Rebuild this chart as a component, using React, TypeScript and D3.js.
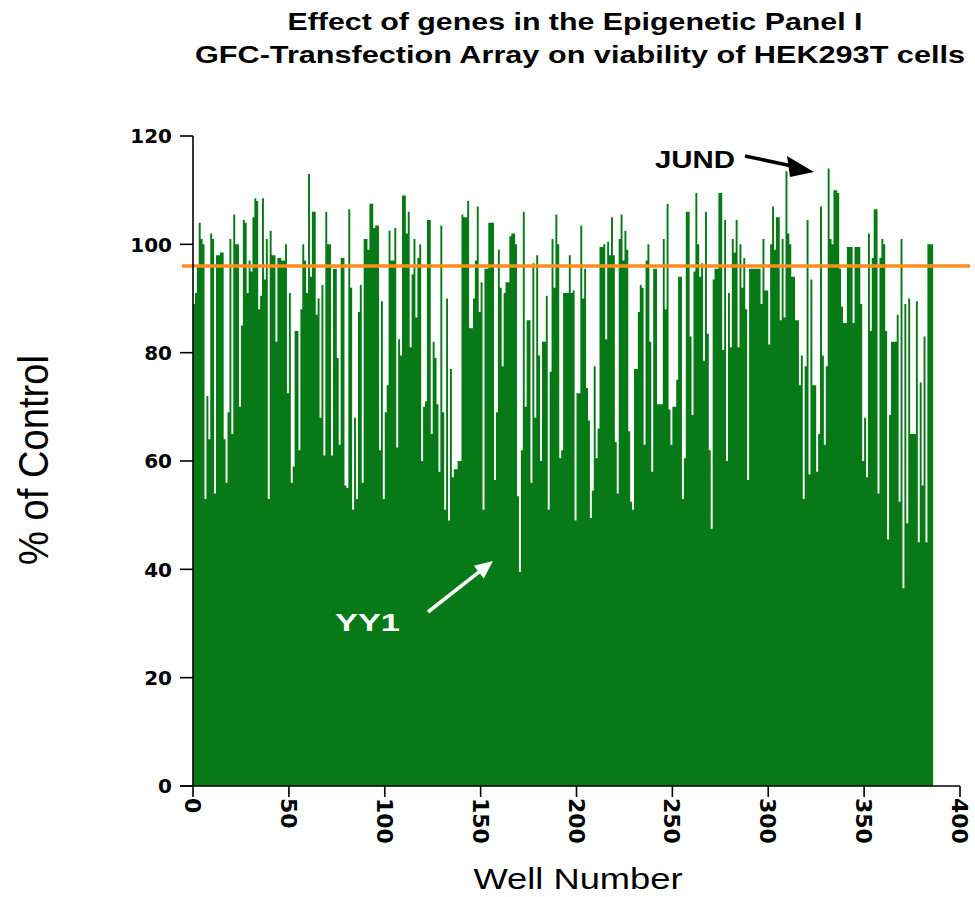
import React from "react"
import * as d3 from "d3"

// % of control, read well by well off the picture (wells 1..386)
const wells001to047 = [89, 91, 96, 104, 101, 100, 53, 72, 64, 102, 101, 54, 98, 98, 98.5, 98.5, 64, 56, 69, 101, 65, 105.5, 100, 100, 70, 85, 104.5, 104, 91, 97, 95, 105, 108.5, 108, 88, 90.5, 108.5, 93.5, 101, 53, 102.5, 98, 98, 82, 97.5, 97.5, 97]
const wells048to097 = [97, 100, 72.5, 91, 56, 59, 84, 84, 62, 88, 100, 97, 91, 113, 94, 106, 106, 87, 90, 68, 92.5, 61, 106, 100, 100, 61, 95.5, 95.5, 79, 63, 97.5, 97.5, 55.5, 55, 106.5, 92, 51, 68, 53, 87.5, 92.5, 56, 101, 101, 99, 107.5, 107.5, 103, 103.5, 103.5]
const wells098to147 = [62, 89.5, 53, 69, 74, 102.5, 97, 97, 103, 62.5, 82.5, 79.5, 109, 109, 102, 106, 81, 94.5, 101, 86.5, 97.5, 100, 60, 70, 71, 104.5, 104.5, 65, 82, 79, 70.5, 58, 103.5, 69, 51, 90, 49, 77, 57, 58.5, 58.5, 60, 60, 105.5, 105, 105, 108, 84.5, 84.5, 90]
const wells148to196 = [97, 107, 87.5, 93, 51, 95.5, 95.5, 104, 104, 104, 56.5, 69, 99, 92, 77.5, 91, 93, 93, 101.5, 102, 102, 100, 53.5, 39.5, 62, 106, 70, 86, 86, 56, 96.5, 68, 98, 79.5, 60, 82, 82, 90.5, 51, 76.5, 101, 92, 105.5, 100, 60.5, 62, 91, 91, 91]
const wells197to246 = [98, 91, 91.5, 49, 72.5, 72.5, 103.5, 90, 95.5, 73.5, 67.5, 49.5, 54.5, 77.5, 60.5, 66, 99.5, 99.5, 100, 82.5, 100.5, 98, 105, 98, 63.5, 54, 101, 105.5, 97, 102.5, 99, 65.5, 52.5, 51, 77, 77, 87.5, 92.5, 92, 63, 97, 100, 82, 58, 95.5, 95.5, 70.5, 70.5, 70.5, 101]
const wells247to294 = [88, 107.5, 69.5, 63, 70, 70, 75, 94, 94, 53, 60.5, 106, 106, 83, 68.5, 95, 109.5, 100, 94, 96.5, 78.5, 106, 83.5, 62, 47.5, 93.5, 95.5, 95.5, 109.5, 109.5, 80.5, 104.5, 60, 91, 81, 101, 98.5, 104.5, 81, 100, 92, 97.5, 88, 56.5, 95.5, 95.5, 95.5, 95.5]
const wells295to344 = [95.5, 95.5, 89, 101, 91.5, 91.5, 81.5, 100, 107, 99, 105, 105, 86, 101, 86.5, 113.5, 102, 100, 94, 94, 86, 86, 74, 79.5, 53, 77.5, 104.5, 57.5, 93.5, 74, 74, 58, 65, 107, 79.5, 63, 77.5, 114, 101, 100, 110, 110, 109.5, 95.5, 88.5, 85.5, 85.5, 99.5, 99.5, 99.5]
const wells345to386 = [85.5, 99.5, 99.5, 99.5, 89, 60, 68, 57, 102, 84, 97.5, 106.5, 106.5, 54, 97.5, 101, 100, 84, 45.5, 68.5, 82, 82, 82, 87, 52.5, 101, 36.5, 89, 48.5, 90, 65, 65, 65, 89.5, 45, 74.5, 55.5, 83, 45, 100, 100, 100]

const yTicks = [0, 20, 40, 60, 80, 100, 120]
const xTicks = [0, 50, 100, 150, 200, 250, 300, 350, 400]
const cutoff = 96
const titleLines = [
    "Effect of genes in the Epigenetic Panel I",
    "GFC-Transfection Array on viability of HEK293T cells",
]

const GREEN = "#077a17"
const ORANGE = "#ff8c1f"
const SANS = "Liberation Sans, Arial, sans-serif"
const WIDE = "DejaVu Sans, Verdana, sans-serif"

export default function App() {
    const viability = [
        ...wells001to047,
        ...wells048to097,
        ...wells098to147,
        ...wells148to196,
        ...wells197to246,
        ...wells247to294,
        ...wells295to344,
        ...wells345to386,
    ]

    const x = d3.scaleLinear().domain([0, 400]).range([193, 960])
    const y = d3.scaleLinear().domain([0, 120]).range([786, 136])

    // one stepped area, so neighbouring wells don't leave seams
    const steps: [number, number][] = viability.map((v, i) => [i, v])
    steps.push([viability.length, viability[viability.length - 1]])
    const area = d3
        .area<[number, number]>()
        .x((d) => x(d[0]))
        .y0(y(0))
        .y1((d) => y(d[1]))
        .curve(d3.curveStepAfter)

    // white YY1 arrow geometry
    const tip = [493, 561]
    const from = [428, 612]
    const len = Math.hypot(tip[0] - from[0], tip[1] - from[1])
    const ux = (tip[0] - from[0]) / len
    const uy = (tip[1] - from[1]) / len
    const bx = tip[0] - ux * 18
    const by = tip[1] - uy * 18

    return (
        <div style={{ position: "absolute", left: 0, top: 0 }}>
            <svg width={975} height={897} style={{ display: "block", background: "#fff" }}>
                {titleLines.map((t, i) => (
                    <text
                        key={t}
                        x={i === 0 ? 575 : 580}
                        y={i === 0 ? 30 : 63}
                        textAnchor="middle"
                        fontFamily={SANS}
                        fontWeight="bold"
                        fontSize={23}
                        textLength={i === 0 ? 575 : 770}
                        lengthAdjust="spacingAndGlyphs"
                    >
                        {t}
                    </text>
                ))}

                <path d={area(steps) || ""} fill={GREEN} />

                <line x1={182} x2={970} y1={y(cutoff)} y2={y(cutoff)} stroke={ORANGE} strokeWidth={3.5} />

                {/* axes */}
                <line x1={193} x2={193} y1={y(120)} y2={y(0)} stroke="#000" strokeWidth={1.6} />
                <line x1={180} x2={x(400)} y1={y(0)} y2={y(0)} stroke="#000" strokeWidth={1.6} />
                {yTicks.map((t) => (
                    <g key={"y" + t}>
                        <line x1={180} x2={193} y1={y(t)} y2={y(t)} stroke="#000" strokeWidth={1.6} />
                        <text
                            x={172}
                            y={y(t)}
                            dy="0.36em"
                            textAnchor="end"
                            fontFamily={WIDE}
                            fontWeight="bold"
                            fontSize={20}
                        >
                            {t}
                        </text>
                    </g>
                ))}
                {xTicks.map((t) => (
                    <g key={"x" + t}>
                        <line x1={x(t)} x2={x(t)} y1={y(0)} y2={y(0) + 11} stroke="#000" strokeWidth={1.6} />
                        <text
                            transform={`translate(${x(t)},${y(0) + 12}) rotate(90)`}
                            dy="0.36em"
                            fontFamily={WIDE}
                            fontWeight="bold"
                            fontSize={22}
                        >
                            {t}
                        </text>
                    </g>
                ))}

                <text
                    x={578}
                    y={889}
                    textAnchor="middle"
                    fontFamily={SANS}
                    fontSize={30}
                    textLength={209}
                    lengthAdjust="spacingAndGlyphs"
                >
                    Well Number
                </text>
                <text
                    transform="translate(48,460) rotate(-90)"
                    textAnchor="middle"
                    fontFamily={SANS}
                    fontSize={42}
                    textLength={210}
                    lengthAdjust="spacingAndGlyphs"
                >
                    % of Control
                </text>

                {/* JUND callout */}
                <text
                    x={655}
                    y={168}
                    fontFamily={SANS}
                    fontWeight="bold"
                    fontSize={24}
                    textLength={80}
                    lengthAdjust="spacingAndGlyphs"
                >
                    JUND
                </text>
                <line x1={745} y1={156} x2={792} y2={166} stroke="#000" strokeWidth={3.5} />
                <polygon points="787,156 790,177 814,172" fill="#000" />

                {/* YY1 callout */}
                <text
                    x={335}
                    y={631}
                    fill="#fff"
                    fontFamily={SANS}
                    fontWeight="bold"
                    fontSize={24}
                    textLength={65}
                    lengthAdjust="spacingAndGlyphs"
                >
                    YY1
                </text>
                <line x1={from[0]} y1={from[1]} x2={bx + ux * 2} y2={by + uy * 2} stroke="#fff" strokeWidth={3.5} />
                <polygon
                    points={`${tip[0]},${tip[1]} ${bx - uy * 8},${by + ux * 8} ${bx + uy * 8},${by - ux * 8}`}
                    fill="#fff"
                />
            </svg>
        </div>
    )
}
